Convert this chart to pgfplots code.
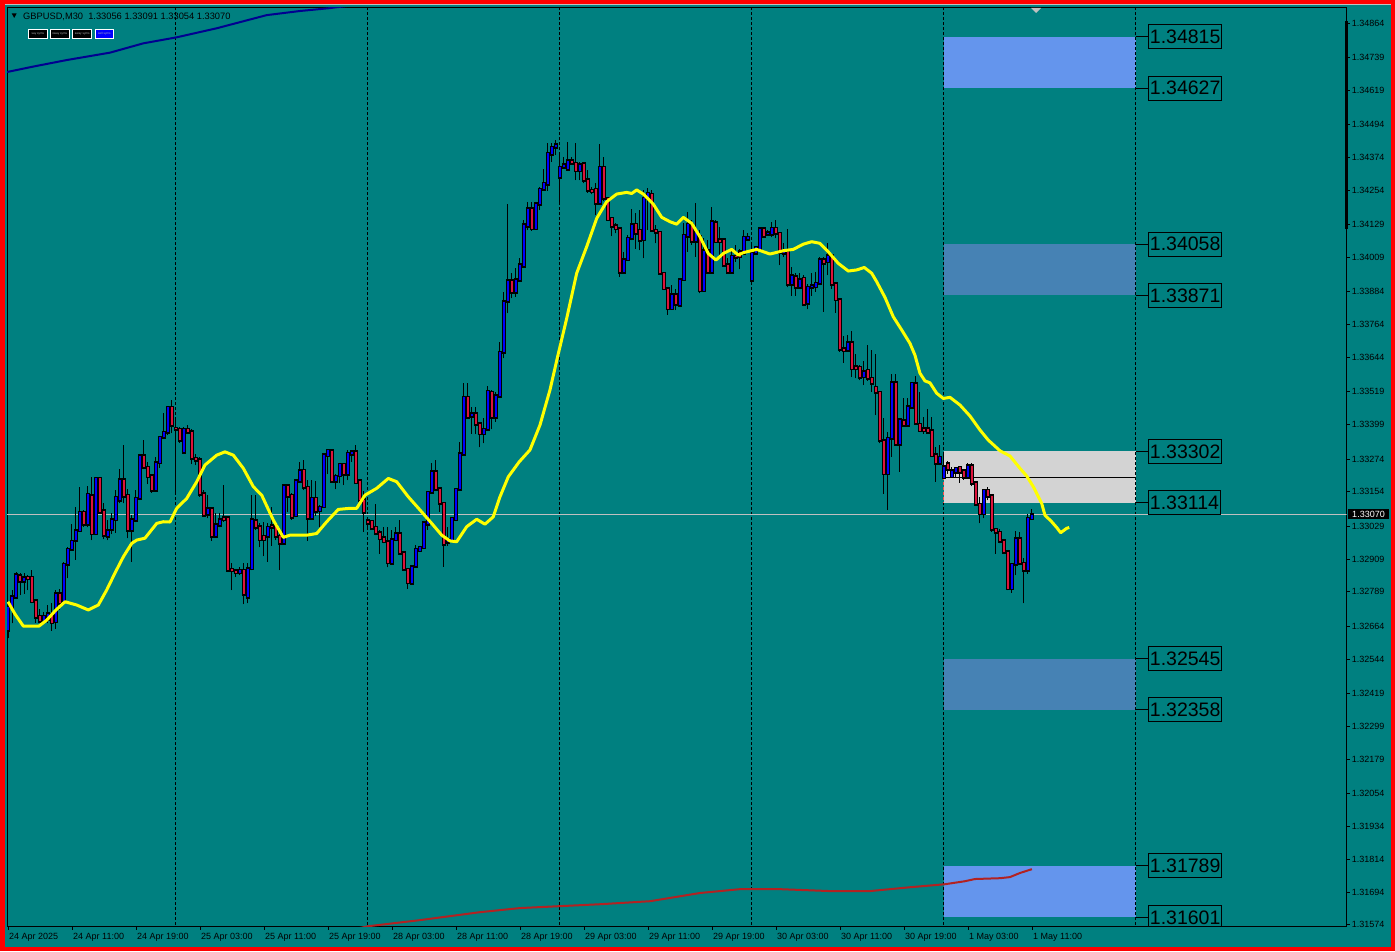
\documentclass[border=0pt]{standalone}
\usepackage{pgfplots}
\pgfplotsset{compat=1.18}
\usepackage{pgfplotstable}
\usepackage{fontspec}
\setmainfont{Liberation Sans}

\definecolor{bgteal}{HTML}{008080}
\definecolor{frame}{HTML}{FF0000}
\definecolor{bull}{HTML}{0000FF}
\definecolor{bear}{HTML}{DC143C}
\definecolor{zoneA}{HTML}{6495ED}
\definecolor{zoneB}{HTML}{4682B4}
\definecolor{zoneC}{HTML}{D3D3D3}
\definecolor{maY}{HTML}{FFFF00}
\definecolor{maN}{HTML}{000090}
\definecolor{maR}{HTML}{B22222}
\definecolor{bid}{HTML}{C0C0C0}

\pgfplotsset{
  bars only/.style={only marks, mark=none, mark size=0pt, mark options={draw=none, fill=none}},
}

% GBPUSD M30 bars: index, open, high, low, close
\pgfplotstableread{
x o h l c
0 1.32649 1.32747 1.32619 1.32734
1 1.32734 1.32795 1.32674 1.32771
2 1.32771 1.32862 1.32765 1.32850
3 1.32847 1.32859 1.32777 1.32829
4 1.32829 1.32859 1.32783 1.32841
5 1.32842 1.32850 1.32795 1.32837
6 1.32842 1.32868 1.32747 1.32753
7 1.32756 1.32759 1.32676 1.32698
8 1.32700 1.32728 1.32674 1.32683
9 1.32683 1.32716 1.32674 1.32700
10 1.32688 1.32741 1.32674 1.32708
11 1.32704 1.32747 1.32647 1.32677
12 1.32680 1.32795 1.32655 1.32783
13 1.32783 1.32801 1.32722 1.32747
14 1.32753 1.32899 1.32747 1.32890
15 1.32890 1.32953 1.32838 1.32944
16 1.32944 1.33036 1.32941 1.32973
17 1.32978 1.33100 1.32907 1.33012
18 1.33012 1.33173 1.33008 1.33079
19 1.33079 1.33087 1.33027 1.33035
20 1.33035 1.33175 1.33024 1.33145
21 1.33139 1.33207 1.32978 1.33002
22 1.33002 1.33207 1.32996 1.33203
23 1.33203 1.33207 1.33078 1.33081
24 1.33084 1.33115 1.32981 1.32995
25 1.32992 1.33051 1.32978 1.33012
26 1.33017 1.33078 1.33000 1.33051
27 1.33053 1.33160 1.33005 1.33134
28 1.33124 1.33237 1.33112 1.33197
29 1.33197 1.33325 1.33112 1.33139
30 1.33141 1.33163 1.32984 1.33014
31 1.33014 1.33069 1.32899 1.33051
32 1.33051 1.33160 1.33045 1.33130
33 1.33130 1.33294 1.33124 1.33285
34 1.33285 1.33343 1.33237 1.33243
35 1.33243 1.33264 1.33182 1.33209
36 1.33212 1.33221 1.33151 1.33160
37 1.33160 1.33282 1.33158 1.33261
38 1.33261 1.33357 1.33242 1.33353
39 1.33353 1.33443 1.33349 1.33371
40 1.33371 1.33465 1.33361 1.33462
41 1.33462 1.33489 1.33368 1.33397
42 1.33386 1.33416 1.33154 1.33382
43 1.33382 1.33389 1.33333 1.33343
44 1.33300 1.33389 1.33298 1.33382
45 1.33382 1.33398 1.33368 1.33372
46 1.33372 1.33382 1.33255 1.33276
47 1.33276 1.33294 1.33252 1.33270
48 1.33272 1.33282 1.33136 1.33146
49 1.33146 1.33160 1.33065 1.33069
50 1.33073 1.33142 1.33057 1.33091
51 1.33093 1.33097 1.32975 1.32992
52 1.32992 1.33078 1.32990 1.33033
53 1.33033 1.33078 1.33024 1.33051
54 1.33058 1.33179 1.33045 1.33053
55 1.33058 1.33063 1.32862 1.32868
56 1.32871 1.32893 1.32795 1.32866
57 1.32866 1.32874 1.32844 1.32859
58 1.32859 1.32880 1.32850 1.32868
59 1.32868 1.32893 1.32744 1.32781
60 1.32771 1.32893 1.32747 1.32874
61 1.32874 1.33142 1.32868 1.33051
62 1.33048 1.33141 1.33014 1.33026
63 1.33026 1.33040 1.32951 1.32980
64 1.32992 1.33044 1.32919 1.32980
65 1.32992 1.33039 1.32899 1.33024
66 1.33031 1.33097 1.32957 1.33026
67 1.33029 1.33039 1.32978 1.32992
68 1.32992 1.33008 1.32868 1.32966
69 1.32968 1.33179 1.32963 1.33175
70 1.33175 1.33179 1.33081 1.33138
71 1.33141 1.33151 1.33053 1.33063
72 1.33067 1.33197 1.33066 1.33193
73 1.33192 1.33264 1.33188 1.33230
74 1.33233 1.33272 1.33160 1.33170
75 1.33170 1.33197 1.32975 1.33057
76 1.33057 1.33197 1.33053 1.33130
77 1.33130 1.33195 1.33066 1.33084
78 1.33085 1.33106 1.33026 1.33097
79 1.33100 1.33292 1.33097 1.33288
80 1.33286 1.33309 1.33219 1.33305
81 1.33305 1.33309 1.33188 1.33192
82 1.33192 1.33221 1.33163 1.33211
83 1.33213 1.33258 1.33185 1.33254
84 1.33254 1.33258 1.33179 1.33218
85 1.33218 1.33307 1.33197 1.33295
86 1.33291 1.33307 1.33264 1.33299
87 1.33299 1.33325 1.33185 1.33188
88 1.33193 1.33197 1.33112 1.33124
89 1.33124 1.33158 1.33008 1.33079
90 1.33048 1.33057 1.33020 1.33039
91 1.33046 1.33051 1.33016 1.33022
92 1.33024 1.33109 1.32996 1.33004
93 1.33004 1.33014 1.32929 1.32983
94 1.32987 1.33026 1.32966 1.32972
95 1.32971 1.33024 1.32878 1.32896
96 1.32895 1.33014 1.32893 1.32980
97 1.32980 1.33026 1.32975 1.33002
98 1.33002 1.33053 1.32927 1.32931
99 1.32931 1.32935 1.32866 1.32871
100 1.32871 1.32874 1.32801 1.32823
101 1.32820 1.32883 1.32816 1.32881
102 1.32883 1.32960 1.32878 1.32944
103 1.32939 1.32956 1.32935 1.32951
104 1.32950 1.33044 1.32947 1.33042
105 1.33035 1.33154 1.33016 1.33152
106 1.33152 1.33258 1.33148 1.33227
107 1.33227 1.33272 1.33160 1.33164
108 1.33164 1.33166 1.33081 1.33112
109 1.33112 1.33118 1.32881 1.32962
110 1.32971 1.33026 1.32956 1.32980
111 1.32980 1.33063 1.32978 1.33057
112 1.33053 1.33166 1.33050 1.33163
113 1.33163 1.33336 1.33160 1.33292
114 1.33292 1.33550 1.33288 1.33499
115 1.33499 1.33550 1.33422 1.33426
116 1.33431 1.33465 1.33367 1.33438
117 1.33438 1.33465 1.33365 1.33401
118 1.33401 1.33410 1.33316 1.33367
119 1.33367 1.33422 1.33331 1.33382
120 1.33382 1.33540 1.33379 1.33521
121 1.33517 1.33525 1.33382 1.33426
122 1.33426 1.33519 1.33410 1.33504
123 1.33504 1.33702 1.33501 1.33663
124 1.33665 1.33884 1.33641 1.33848
125 1.33851 1.34204 1.33806 1.33925
126 1.33925 1.33951 1.33860 1.33882
127 1.33882 1.33970 1.33866 1.33929
128 1.33927 1.34006 1.33924 1.33982
129 1.33979 1.34146 1.33975 1.34128
130 1.34124 1.34213 1.34109 1.34188
131 1.34188 1.34213 1.34107 1.34115
132 1.34115 1.34213 1.34113 1.34204
133 1.34204 1.34265 1.34182 1.34258
134 1.34258 1.34331 1.34253 1.34280
135 1.34277 1.34426 1.34253 1.34389
136 1.34387 1.34426 1.34359 1.34411
137 1.34411 1.34440 1.34383 1.34420
138 1.34302 1.34389 1.34209 1.34338
139 1.34338 1.34377 1.34335 1.34347
140 1.34331 1.34432 1.34329 1.34363
141 1.34363 1.34377 1.34347 1.34353
142 1.34353 1.34426 1.34292 1.34326
143 1.34326 1.34359 1.34292 1.34347
144 1.34350 1.34359 1.34280 1.34292
145 1.34292 1.34329 1.34246 1.34255
146 1.34255 1.34265 1.34240 1.34250
147 1.34258 1.34280 1.34164 1.34207
148 1.34207 1.34423 1.34204 1.34338
149 1.34338 1.34377 1.34216 1.34225
150 1.34225 1.34231 1.34146 1.34148
151 1.34152 1.34158 1.34087 1.34124
152 1.34125 1.34134 1.34097 1.34115
153 1.34115 1.34122 1.33939 1.33957
154 1.33957 1.34030 1.33954 1.34002
155 1.34002 1.34091 1.34000 1.34079
156 1.34079 1.34188 1.34073 1.34128
157 1.34130 1.34170 1.34042 1.34097
158 1.34109 1.34182 1.34036 1.34073
159 1.34075 1.34255 1.34006 1.34225
160 1.34225 1.34262 1.34109 1.34243
161 1.34240 1.34255 1.34103 1.34109
162 1.34109 1.34128 1.34061 1.34103
163 1.34101 1.34103 1.33949 1.33951
164 1.33951 1.33957 1.33893 1.33896
165 1.33896 1.33902 1.33801 1.33823
166 1.33823 1.33909 1.33820 1.33872
167 1.33872 1.33896 1.33817 1.33839
168 1.33836 1.33933 1.33832 1.33929
169 1.33929 1.34136 1.33927 1.34090
170 1.34087 1.34176 1.34030 1.34130
171 1.34130 1.34148 1.34055 1.34070
172 1.34070 1.34209 1.34012 1.34103
173 1.34085 1.34109 1.33878 1.33888
174 1.33888 1.34079 1.33884 1.34034
175 1.34034 1.34073 1.33954 1.33957
176 1.33957 1.34195 1.33954 1.34140
177 1.34137 1.34146 1.34064 1.34067
178 1.34073 1.34122 1.34012 1.34067
179 1.34075 1.34079 1.33978 1.33982
180 1.33982 1.34006 1.33954 1.33957
181 1.33957 1.34036 1.33954 1.34014
182 1.34014 1.34055 1.33994 1.34010
183 1.34030 1.34042 1.33966 1.34012
184 1.34024 1.34109 1.34018 1.34083
185 1.34077 1.34097 1.34073 1.34083
186 1.33927 1.34061 1.33924 1.34024
187 1.34024 1.34049 1.34022 1.34046
188 1.34042 1.34122 1.34039 1.34113
189 1.34113 1.34122 1.34083 1.34087
190 1.34095 1.34109 1.34090 1.34100
191 1.34095 1.34140 1.34083 1.34116
192 1.34116 1.34146 1.34079 1.34097
193 1.34097 1.34100 1.33982 1.34027
194 1.34024 1.34061 1.34012 1.34030
195 1.34030 1.34113 1.33900 1.33912
196 1.33912 1.33976 1.33869 1.33942
197 1.33939 1.33951 1.33869 1.33900
198 1.33900 1.33951 1.33896 1.33929
199 1.33933 1.33945 1.33832 1.33838
200 1.33842 1.33912 1.33820 1.33900
201 1.33900 1.33951 1.33869 1.33905
202 1.33903 1.33957 1.33884 1.33915
203 1.33915 1.34012 1.33912 1.34000
204 1.34000 1.34012 1.33811 1.33990
205 1.33994 1.34061 1.33945 1.34015
206 1.34015 1.34018 1.33895 1.33912
207 1.33912 1.33921 1.33808 1.33856
208 1.33856 1.33860 1.33665 1.33674
209 1.33676 1.33722 1.33625 1.33669
210 1.33671 1.33725 1.33669 1.33699
211 1.33699 1.33742 1.33574 1.33604
212 1.33611 1.33657 1.33568 1.33604
213 1.33608 1.33617 1.33562 1.33572
214 1.33574 1.33631 1.33544 1.33593
215 1.33598 1.33690 1.33559 1.33568
216 1.33568 1.33671 1.33519 1.33550
217 1.33535 1.33659 1.33434 1.33517
218 1.33517 1.33519 1.33331 1.33343
219 1.33339 1.33425 1.33148 1.33221
220 1.33221 1.33373 1.33087 1.33349
221 1.33349 1.33586 1.33282 1.33553
222 1.33553 1.33583 1.33325 1.33328
223 1.33328 1.33421 1.33227 1.33416
224 1.33413 1.33495 1.33392 1.33398
225 1.33398 1.33495 1.33394 1.33464
226 1.33462 1.33552 1.33458 1.33550
227 1.33547 1.33578 1.33401 1.33404
228 1.33400 1.33519 1.33373 1.33377
229 1.33385 1.33428 1.33367 1.33377
230 1.33385 1.33455 1.33367 1.33373
231 1.33376 1.33428 1.33282 1.33286
232 1.33290 1.33318 1.33191 1.33258
233 1.33258 1.33325 1.33252 1.33280
234 1.33206 1.33287 1.33202 1.33245
235 1.33255 1.33268 1.33221 1.33236
236 1.33209 1.33246 1.33209 1.33230
237 1.33227 1.33246 1.33209 1.33240
238 1.33243 1.33246 1.33188 1.33227
239 1.33230 1.33236 1.33199 1.33207
240 1.33207 1.33258 1.33203 1.33248
241 1.33248 1.33258 1.33175 1.33187
242 1.33188 1.33191 1.33106 1.33108
243 1.33108 1.33136 1.33039 1.33075
244 1.33075 1.33163 1.33057 1.33160
245 1.33160 1.33173 1.33124 1.33139
246 1.33139 1.33142 1.33008 1.33017
247 1.33017 1.33020 1.32929 1.33006
248 1.33006 1.33020 1.32966 1.32975
249 1.32974 1.32978 1.32929 1.32935
250 1.32935 1.32935 1.32795 1.32801
251 1.32801 1.32893 1.32786 1.32889
252 1.32889 1.33012 1.32850 1.32982
253 1.32982 1.33008 1.32890 1.32895
254 1.32893 1.32911 1.32747 1.32868
255 1.32868 1.33075 1.32856 1.33057
256 1.33056 1.33091 1.33054 1.33070
}\candles

\begin{document}
\begin{tikzpicture}
\path[use as bounding box] (0pt,0pt) rectangle (1395pt,951pt);
\fill[frame] (0pt,0pt) rectangle (1395pt,951pt);
\fill[bgteal] (5pt,4.3pt) rectangle (1391pt,947pt);
\draw[bid, line width=1.3pt] (5pt,946.3pt) -- (1391pt,946.3pt);

\begin{axis}[
  at={(7pt,24.3pt)}, anchor=south west,
  width=1339.7pt, height=918.7pt, scale only axis,
  xmin=-0.25, xmax=334.7, ymin=1.31567, ymax=1.34920,
  axis line style={black, line width=1pt},
  tick style={black, line width=0.8pt},
  tick align=outside, major tick length=3pt,
  xtick pos=left, ytick pos=right, yticklabel pos=right,
  scaled y ticks=false,
  xtick={0,16,...,256},
  xticklabels={24 Apr 2025,24 Apr 11:00,24 Apr 19:00,25 Apr 03:00,25 Apr 11:00,25 Apr 19:00,28 Apr 03:00,28 Apr 11:00,28 Apr 19:00,29 Apr 03:00,29 Apr 11:00,29 Apr 19:00,30 Apr 03:00,30 Apr 11:00,30 Apr 19:00,1 May 03:00,1 May 11:00},
  ytick={1.34864,1.34739,1.34619,1.34494,1.34374,1.34254,1.34129,1.34009,1.33884,1.33764,1.33644,1.33519,1.33399,1.33274,1.33154,1.33029,1.32909,1.32789,1.32664,1.32544,1.32419,1.32299,1.32179,1.32054,1.31934,1.31814,1.31694,1.31574},
  yticklabels={1.34864,1.34739,1.34619,1.34494,1.34374,1.34254,1.34129,1.34009,1.33884,1.33764,1.33644,1.33519,1.33399,1.33274,1.33154,1.33029,1.32909,1.32789,1.32664,1.32544,1.32419,1.32299,1.32179,1.32054,1.31934,1.31814,1.31694,1.31574},
  xticklabel style={font=\fontsize{9}{10}\selectfont, anchor=north west, inner sep=0pt, xshift=1pt, yshift=-3pt},
  yticklabel style={font=\fontsize{9}{10}\selectfont, anchor=west, inner sep=0pt, xshift=2pt},
]
% supply / demand zones
\addplot[fill=zoneA, draw=none] coordinates {(234,1.34815) (282,1.34815) (282,1.34627) (234,1.34627)} -- cycle;
\addplot[fill=zoneB, draw=none] coordinates {(234,1.34058) (282,1.34058) (282,1.33871) (234,1.33871)} -- cycle;
\addplot[fill=zoneC, draw=none] coordinates {(234,1.33302) (282,1.33302) (282,1.33114) (234,1.33114)} -- cycle;
\addplot[fill=zoneB, draw=none] coordinates {(234,1.32545) (282,1.32545) (282,1.32358) (234,1.32358)} -- cycle;
\addplot[fill=zoneA, draw=none] coordinates {(234,1.31789) (282,1.31789) (282,1.31601) (234,1.31601)} -- cycle;

% day separators
\pgfplotsinvokeforeach{42,90,138,186,234,282}{
  \draw[black, line width=1pt, dash pattern=on 3pt off 2pt] (axis cs:#1,1.3150) -- (axis cs:#1,1.3500);
}
\draw[red!70!white, line width=1pt, dash pattern=on 3pt off 2pt] (axis cs:234,1.33208) -- (axis cs:234,1.33114);

% bid line and zone mid line
\addplot[bid, line width=1pt] coordinates {(-1,1.33070) (336,1.33070)};
\addplot[black, line width=1pt] coordinates {(234,1.33208) (282,1.33208)};

% long moving averages
\addplot[maN, line width=2pt] coordinates {(-1,1.34684) (6.25,1.34706) (14.68,1.34730) (25.5,1.34757) (33.83,1.34791) (42.18,1.34813) (52.18,1.34846) (64.68,1.34894) (73,1.34909) (80.08,1.34919) (93,1.34942)};
\addplot[maR, line width=2pt] coordinates {(85.5,1.31555) (90.25,1.31569) (103,1.31591) (118,1.31620) (128,1.31635) (138,1.31642) (148,1.31649) (160.5,1.31660) (173,1.31690) (183,1.31704) (193,1.31704) (205.5,1.31697) (215.5,1.31697) (225.5,1.31711) (234.25,1.31722) (239.25,1.31733) (241.75,1.31741) (248,1.31744) (250.5,1.31748) (253,1.31763) (256,1.31777)};

% candles: wicks, outlines, bodies
\addplot[bars only, error bars/.cd, y dir=plus, y explicit, error mark=none,
  error bar style={draw=black, line width=1pt}]
  table[x=x, y=l, y error plus expr=\thisrow{h}-\thisrow{l}] {\candles};
\addplot[bars only, error bars/.cd, y dir=plus, y explicit, error mark=none,
  error bar style={draw=black, line width=3.4pt, line cap=rect}]
  table[x=x, y expr={min(\thisrow{o},\thisrow{c})}, y error plus expr={abs(\thisrow{c}-\thisrow{o})}] {\candles};
\addplot[bars only, error bars/.cd, y dir=plus, y explicit, error mark=none,
  error bar style={draw=bull, line width=1.8pt, line cap=butt}]
  table[x=x, y=o, y error plus expr={max(\thisrow{c}-\thisrow{o},0)}] {\candles};
\addplot[bars only, error bars/.cd, y dir=plus, y explicit, error mark=none,
  error bar style={draw=bear, line width=1.8pt, line cap=butt}]
  table[x=x, y=c, y error plus expr={max(\thisrow{o}-\thisrow{c},0)}] {\candles};

% fast moving average
\addplot[maY, line width=3pt, line join=round] coordinates {(0,1.32753) (1.75,1.32708) (3.83,1.32664) (7.75,1.32664) (9.68,1.32686) (12,1.32723) (14.25,1.32753) (17.18,1.32741) (20.08,1.32723) (22.58,1.32741) (24.68,1.32796) (26.75,1.32858) (28.83,1.32917) (30.93,1.32966) (32.18,1.32978) (34.25,1.32985) (37.18,1.33039) (38.83,1.33045) (40.5,1.33044) (42.18,1.33094) (44.68,1.33130) (47.18,1.33191) (49.25,1.33252) (52.18,1.33288) (54.25,1.33300) (56.33,1.33288) (58.83,1.33240) (61.33,1.33173) (63.43,1.33142) (66.33,1.33051) (68.83,1.32988) (70.5,1.32996) (74.68,1.32996) (77.18,1.33002) (79.68,1.33045) (82.58,1.33090) (85.5,1.33094) (87.18,1.33094) (89.25,1.33142) (92.18,1.33167) (95.08,1.33203) (97.18,1.33191) (100.08,1.33136) (103,1.33088) (105.93,1.33039) (108.43,1.32996) (110.5,1.32975) (112.18,1.32972) (114.68,1.33027) (117.18,1.33054) (119.25,1.33036) (121.33,1.33063) (123,1.33136) (125.08,1.33209) (127.83,1.33264) (130.5,1.33307) (133,1.33398) (135.5,1.33526) (137.5,1.33653) (139.68,1.33787) (142.18,1.33952) (144.68,1.34049) (147.18,1.34152) (149.68,1.34213) (152.18,1.34241) (154.68,1.34247) (155.93,1.34243) (157.18,1.34256) (158.83,1.34241) (161.33,1.34204) (163.43,1.34156) (165.5,1.34140) (167.18,1.34131) (168.83,1.34156) (170.93,1.34134) (173,1.34085) (175.08,1.34024) (177,1.34000) (178.83,1.34024) (180.93,1.34039) (182.58,1.34018) (183.83,1.34027) (187.18,1.34039) (190.5,1.34022) (193.83,1.34034) (196.33,1.34039) (198.83,1.34058) (200.93,1.34067) (203,1.34061) (205.08,1.34030) (207.58,1.33988) (210.08,1.33960) (212.18,1.33964) (214.08,1.33973) (215.93,1.33952) (217.18,1.33921) (219.25,1.33864) (221.33,1.33793) (223.43,1.33745) (225.5,1.33696) (226.75,1.33653) (228,1.33587) (229.25,1.33559) (230.5,1.33552) (232.18,1.33514) (233.83,1.33495) (235.5,1.33499) (238,1.33471) (240.5,1.33431) (243,1.33380) (245.08,1.33343) (248,1.33304) (250.5,1.33285) (253,1.33240) (254.68,1.33212) (256.33,1.33173) (258.43,1.33112) (259.25,1.33069) (260.93,1.33045) (262.18,1.33024) (263.18,1.33005) (264.68,1.33021) (265.33,1.33024)};

% zone price labels
\pgfplotsinvokeforeach{1.34815,1.34627,1.34058,1.33871,1.33302,1.33114,1.32545,1.32358,1.31789,1.31601}{
  \draw[black, line width=1pt] (axis cs:282,#1) -- (axis cs:285,#1);
  \node[draw=black, line width=1pt, anchor=west, inner xsep=1.5pt, inner ysep=0pt,
    minimum height=24pt, text=black, font=\fontsize{19.5}{20}\selectfont] at (axis cs:285,#1) {#1};
}
\end{axis}

% current price tag and scale marker
\fill[black] (1348pt,431.7pt) rectangle (1389pt,441.7pt);
\node[text=white, inner sep=0pt, font=\fontsize{9}{10}\selectfont] at (1368.5pt,436.7pt) {1.33070};
\draw[black, line width=2.7pt] (1346.4pt,930pt) -- (1346.4pt,722.3pt);
\fill[bid] (1031pt,943pt) -- (1041pt,943pt) -- (1036pt,938pt) -- cycle;

% chart header
\fill[black] (11.7pt,937.7pt) -- (16.7pt,937.7pt) -- (14.2pt,933pt) -- cycle;
\node[anchor=base west, inner sep=0pt, text=black, font=\fontsize{9.3}{10}\selectfont] at (23pt,931pt) {GBPUSD,M30\ \ 1.33056 1.33091 1.33054 1.33070};
\foreach \a/\b/\c/\t in {28.3/47.7/black/say syms, 50.3/69.3/black/sway syms, 72.7/91.7/black/sway syms, 95/113.7/bull/sell syms} {
  \filldraw[fill=\c, draw=white, line width=0.8pt] (\a pt,912.7pt) rectangle (\b pt,921.7pt);
  \node[text=gray!60, inner sep=0pt, font=\fontsize{3}{3}\selectfont] at ({(\a+\b)/2*1pt},917.2pt) {\t};
}
\end{tikzpicture}
\end{document}
